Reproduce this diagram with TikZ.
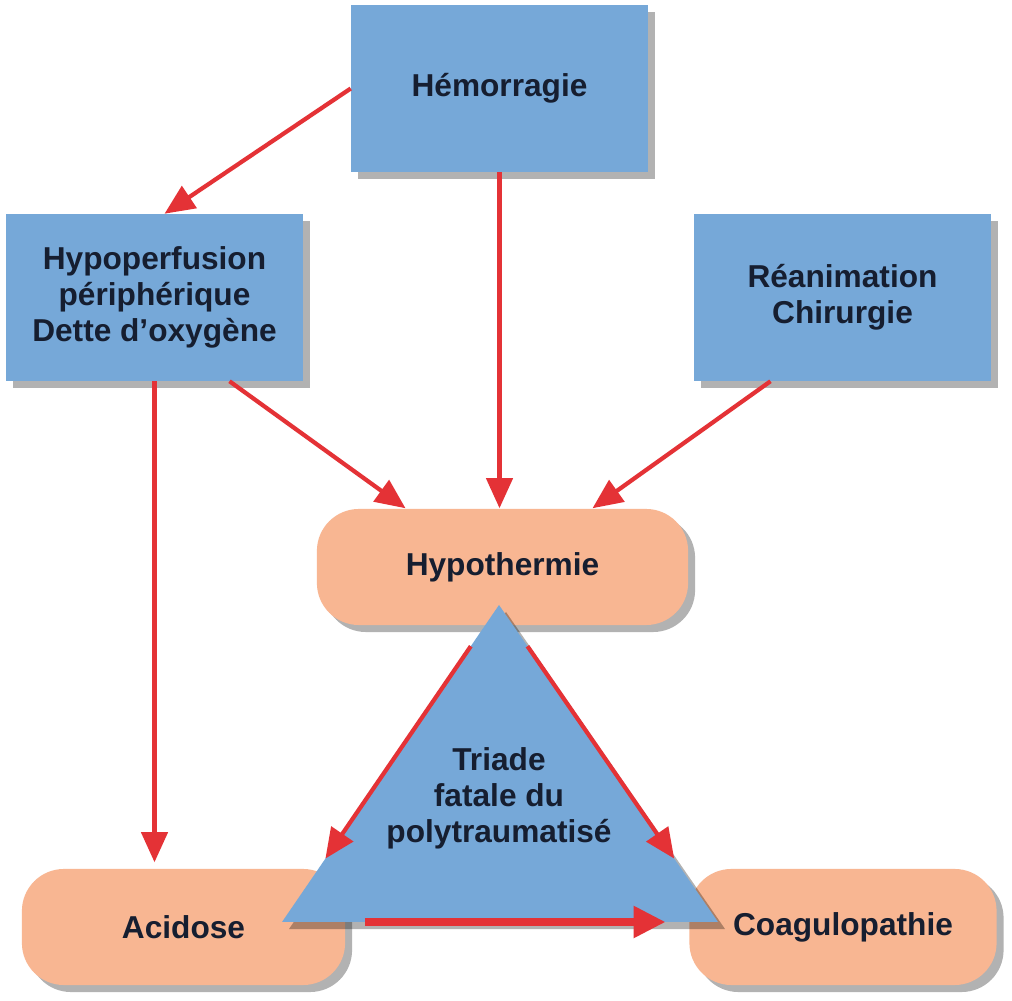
\documentclass[tikz,border=0pt]{standalone}
\usepackage{xcolor}
\usepackage{fontspec}
\setmainfont{Liberation Sans}
\usepackage{tikz}
\usetikzlibrary{
  arrows.meta,
  calc,
  shadows,
}

\definecolor{boxblue}{RGB}{118,168,216}
\definecolor{peach}{RGB}{248,182,146}
\definecolor{arrowred}{RGB}{228,50,54}
\definecolor{inkblue}{RGB}{22,30,48}

\begin{document}
\begin{tikzpicture}[
  x=0.01cm, y=-0.01cm,
  font=\fontsize{9}{10.2}\selectfont\bfseries,
  every node/.style={align=center, text=inkblue},
  ombre/.style={drop shadow={shadow xshift=0.07cm, shadow yshift=-0.07cm, fill=black, opacity=0.3}},
  cause/.style={fill=boxblue, inner sep=0pt, ombre, minimum width=2.96cm, minimum height=1.66cm},
  etat/.style={fill=peach, rounded corners=0.42cm, inner sep=0pt, ombre, minimum height=1.16cm},
  fleche/.style={draw=arrowred, line width=1.2pt, -{Triangle[length=0.3cm, width=0.26cm]}},
]

\useasboundingbox[fill=white] (0,0) rectangle (1012,1001);

% causes
\node[cause] (hemo) at (499.5,88.5) {Hémorragie};
\node[cause] (hypo) at (154.5,297.5) {Hypoperfusion\\périphérique\\Dette d'oxygène};
\node[cause] (rea)  at (842.5,297.5) {Réanimation\\Chirurgie};

% etats
\node[etat, minimum width=3.71cm] (hyth) at (502.5,567) {Hypothermie};
\node[etat, minimum width=3.23cm] (acid) at (183.5,927) {Acidose};
\node[etat, minimum width=3.07cm] (coag) at (843,927) {Coagulopathie};

% triade
\coordinate (apex) at (499,605);
\coordinate (bl) at (282,922);
\coordinate (br) at (718,922);
\fill[boxblue, ombre] (apex) -- (bl) -- (br) -- cycle;
\node (triade) at (499,798) {Triade\\fatale du\\polytraumatisé};

% fleches
\draw[fleche] (hemo.west) -- ($(hypo.north)+(10,0)$);
\draw[fleche] (hemo.south) -- (hemo.south |- hyth.north);
\draw[fleche] ($(hypo.south)+(75,0)$) -- ($(hyth.north)+(-97,0)$);
\draw[fleche] ($(rea.south)+(-72,0)$) -- ($(hyth.north)+(90,0)$);
\draw[fleche] (hypo.south) -- ($(hypo.south |- acid.north)+(0,-6)$);

\draw[fleche] ($(apex)!0.13!(bl)$) -- ($(apex)!0.8!(bl)$);
\draw[fleche] ($(apex)!0.13!(br)$) -- ($(apex)!0.8!(br)$);
\draw[fleche, line width=2.4pt, -{Triangle[length=0.32cm, width=0.3cm]}]
  ($(bl)!0.19!(br)$) -- ($(bl)!0.88!(br)$);

\end{tikzpicture}
\end{document}
